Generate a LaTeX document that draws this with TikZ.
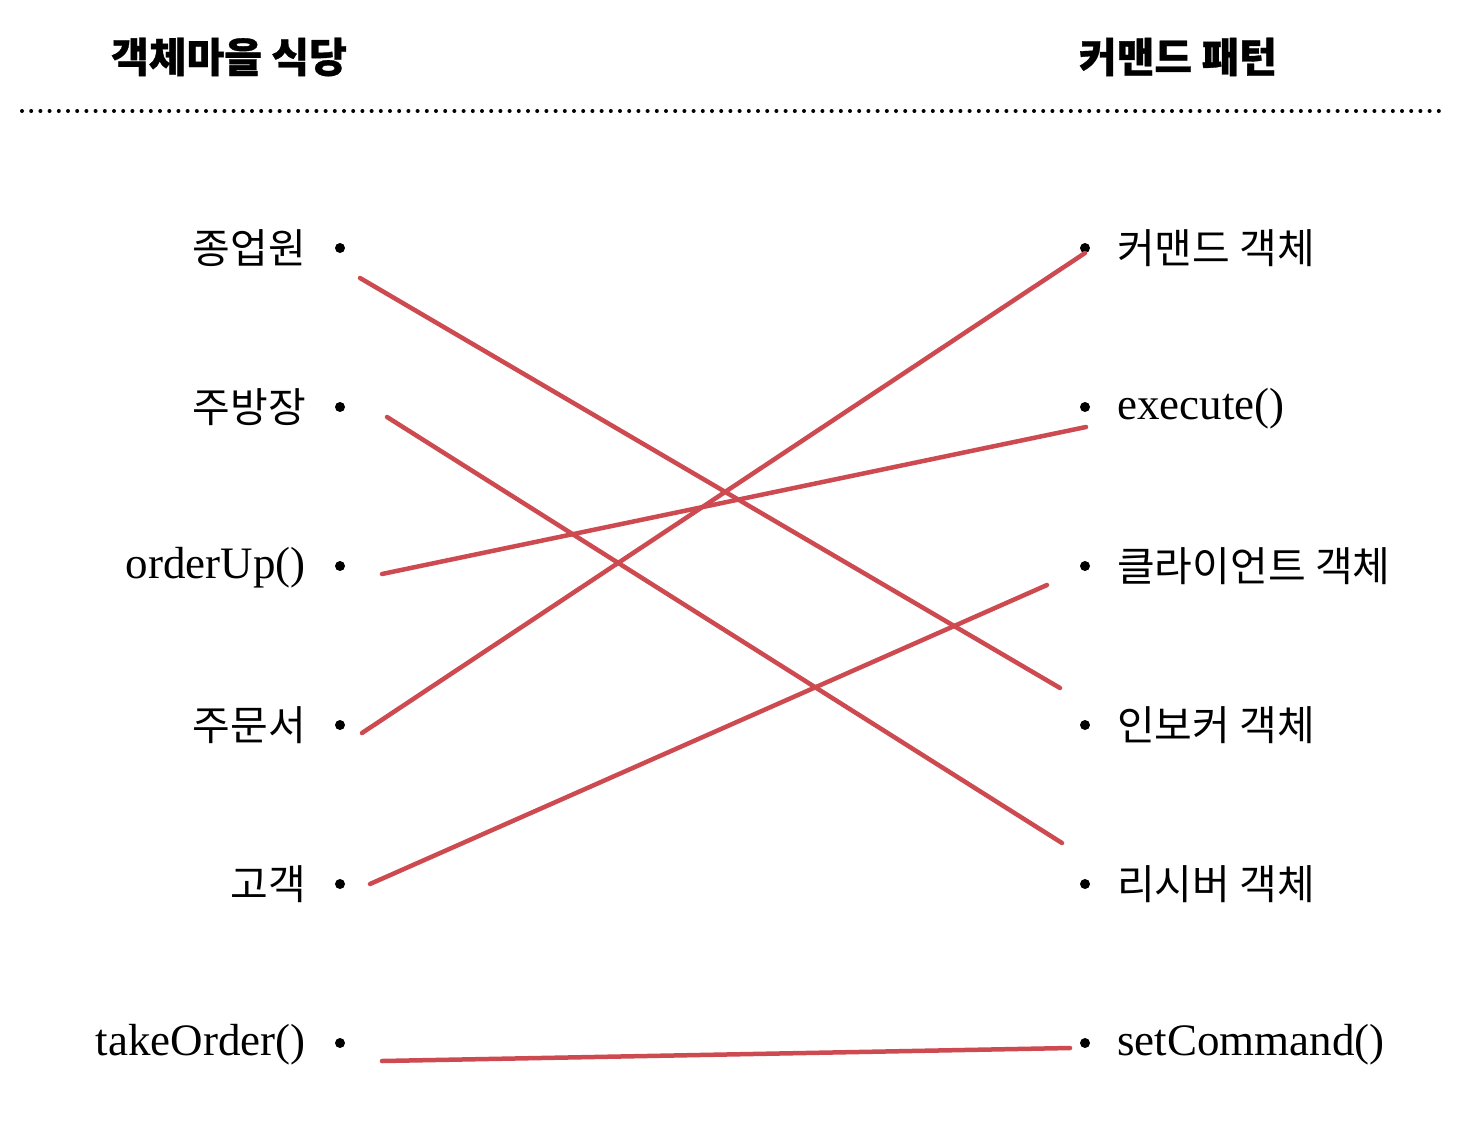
\documentclass[tikz,border=0pt]{standalone}
\usepackage{fontspec}
\setmainfont{Liberation Serif}
\newfontfamily\cjk{Noto Sans CJK KR}
\newfontfamily\cjkheavy{Noto Sans CJK KR}[BoldFeatures={FakeBold=0.8}]
\definecolor{linered}{HTML}{CC4A50}
\begin{document}
\begin{tikzpicture}[x=1pt,y=-1pt,
  dotnode/.style={circle,fill=black,inner sep=0pt,minimum size=10pt},
  leftlab/.style={anchor=east,inner sep=0pt,font=\fontsize{41}{46}\selectfont},
  rightlab/.style={anchor=west,inner sep=0pt,font=\fontsize{41}{46}\selectfont},
  latinlab/.style={font=\fontsize{45}{50}\selectfont},
  titlelab/.style={inner sep=0pt,font=\cjkheavy\bfseries\fontsize{41}{46}\selectfont},
  link/.style={draw=linered,line width=4.5pt,line cap=round}]
\useasboundingbox (0,0) rectangle (1466,1124);
\fill[white] (0,0) rectangle (1466,1124);
% titles
\node[titlelab] (t1) at (229,57) {객체마을 식당};
\node[titlelab] (t2) at (1178,57) {커맨드 패턴};
\coordinate (dl) at (22,111);
\coordinate (dr) at (1440,111);
\draw[line width=4pt,dash pattern=on 0pt off 9.2pt,line cap=round] (dl) -- (dr);
% dots
\foreach \n/\y in {l1/248,l2/407,l3/566,l4/725,l5/884,l6/1043}
  \node[dotnode] (\n) at (340,\y) {};
\foreach \n/\y in {r1/248,r2/407,r3/566,r4/725,r5/884,r6/1043}
  \node[dotnode] (\n) at (1085,\y) {};
% left labels
\node[leftlab] (a1) at (306,248) {\cjk 종업원};
\node[leftlab] (a2) at (306,407) {\cjk 주방장};
\node[leftlab,latinlab] (a3) at (306,568) {orderUp()};
\node[leftlab] (a4) at (306,725) {\cjk 주문서};
\node[leftlab] (a5) at (306,884) {\cjk 고객};
\node[leftlab,latinlab] (a6) at (306,1045) {takeOrder()};
% right labels
\node[rightlab] (b1) at (1117,248) {\cjk 커맨드 객체};
\node[rightlab,latinlab] (b2) at (1117,409) {execute()};
\node[rightlab] (b3) at (1117,566) {\cjk 클라이언트 객체};
\node[rightlab] (b4) at (1117,725) {\cjk 인보커 객체};
\node[rightlab] (b5) at (1117,884) {\cjk 리시버 객체};
\node[rightlab,latinlab] (b6) at (1117,1045) {setCommand()};
% line end points
\coordinate (s1) at (360,278); \coordinate (e1) at (1060,688);
\coordinate (s2) at (387,417); \coordinate (e2) at (1062,843);
\coordinate (s3) at (382,574); \coordinate (e3) at (1086,427);
\coordinate (s4) at (362,733); \coordinate (e4) at (1085,253);
\coordinate (s5) at (370,884); \coordinate (e5) at (1047,585);
\coordinate (s6) at (382,1061); \coordinate (e6) at (1070,1048);
\foreach \i in {1,...,6} \draw[link] (s\i) -- (e\i);
\end{tikzpicture}
\end{document}
